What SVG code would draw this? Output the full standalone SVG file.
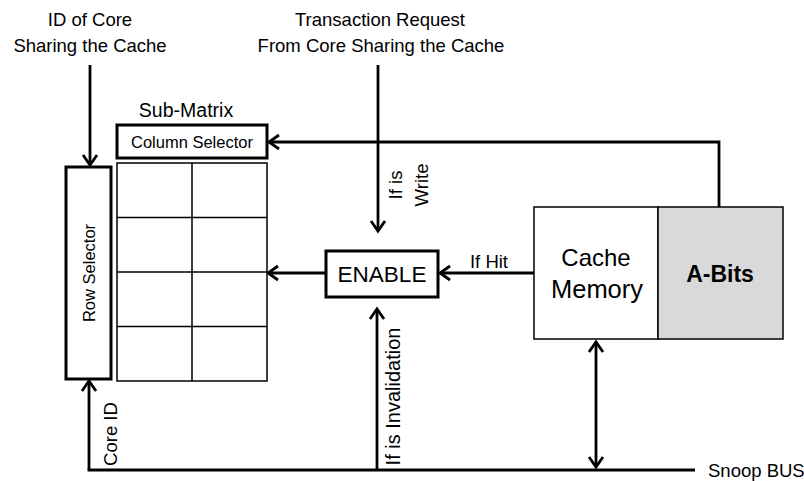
<svg xmlns="http://www.w3.org/2000/svg" width="804" height="481" viewBox="0 0 804 481">
  <style>
    text { font-family: "Liberation Sans", Arial, sans-serif; fill: #000; }
    .lbl { font-size: 18.5px; }
    .box { fill: #fff; stroke: #000; stroke-width: 3; }
    .thin { fill: #fff; stroke: #000; stroke-width: 1.5; }
    .wire { fill: none; stroke: #000; stroke-width: 2.8; }
  </style>
  <defs>
    <marker id="arrow" viewBox="-13 -9 16 18" markerWidth="16" markerHeight="18" refX="0" refY="0" markerUnits="userSpaceOnUse" orient="auto-start-reverse">
      <path d="M-10,-7 L0,0 L-10,7" fill="none" stroke="#000" stroke-width="2.8"/>
    </marker>
  </defs>
  <rect width="804" height="481" fill="#fff"/>

  <!-- input labels -->
  <g id="core-id-input">
    <text class="lbl" x="90" y="26" text-anchor="middle">ID of Core</text>
    <text class="lbl" x="90" y="52" text-anchor="middle">Sharing the Cache</text>
  </g>
  <g id="transaction-input">
    <text class="lbl" x="380" y="26" text-anchor="middle">Transaction Request</text>
    <text class="lbl" x="381" y="52" text-anchor="middle">From Core Sharing the Cache</text>
  </g>

  <!-- connectors -->
  <g id="connectors" class="wire">
    <path d="M90,65 V165" marker-end="url(#arrow)"/>
    <path d="M378,65 V231" marker-end="url(#arrow)"/>
    <path d="M719,207 V142 H269" marker-end="url(#arrow)"/>
    <path d="M326,273 H268" marker-end="url(#arrow)"/>
    <path d="M534,273 H440" marker-end="url(#arrow)"/>
    <path d="M377,470 V309" marker-end="url(#arrow)"/>
    <path d="M89,470 V381" marker-end="url(#arrow)"/>
    <path d="M87.6,470 H695"/>
    <path d="M596,342 V467" marker-start="url(#arrow)" marker-end="url(#arrow)"/>
  </g>

  <!-- connector labels -->
  <g id="connector-labels" class="lbl">
    <text x="489" y="268" text-anchor="middle">If Hit</text>
    <text transform="translate(401.5,185) rotate(-90)" text-anchor="middle">If is</text>
    <text transform="translate(427.5,185) rotate(-90)" text-anchor="middle">Write</text>
    <text transform="translate(400,396.5) rotate(-90)" text-anchor="middle" font-size="20">If is Invalidation</text>
    <text transform="translate(117,434) rotate(-90)" text-anchor="middle">Core ID</text>
    <text x="708" y="477">Snoop BUS</text>
  </g>

  <!-- row selector -->
  <g id="row-selector">
    <rect class="box" x="66" y="167" width="45" height="212"/>
    <text transform="translate(95,273) rotate(-90)" text-anchor="middle" font-size="16.5">Row Selector</text>
  </g>

  <!-- sub-matrix with its column selector -->
  <g id="sub-matrix">
    <text x="186" y="117" text-anchor="middle" font-size="19.5">Sub-Matrix</text>
    <rect class="thin" x="117" y="163" width="150" height="218"/>
    <path d="M192,163 V381 M117,217.5 H267 M117,272 H267 M117,326.5 H267" fill="none" stroke="#000" stroke-width="1.5"/>
  </g>
  <g id="column-selector">
    <rect class="box" x="117" y="125" width="150" height="33"/>
    <text x="192" y="148" text-anchor="middle" font-size="16.5">Column Selector</text>
  </g>

  <!-- enable gate -->
  <g id="enable">
    <rect class="box" x="326" y="251" width="112" height="46"/>
    <text x="382" y="282" text-anchor="middle" font-size="22.5">ENABLE</text>
  </g>

  <!-- cache memory and A-bits -->
  <g id="cache-memory">
    <rect class="thin" x="534" y="207" width="124" height="132"/>
    <text x="596" y="266" text-anchor="middle" font-size="24">Cache</text>
    <text x="597" y="298" text-anchor="middle" font-size="25.5">Memory</text>
  </g>
  <g id="a-bits">
    <rect x="658" y="207" width="125" height="132" fill="#d9d9d9" stroke="#000" stroke-width="1.5"/>
    <text x="720" y="282" text-anchor="middle" font-size="23" font-weight="bold">A-Bits</text>
  </g>
</svg>
